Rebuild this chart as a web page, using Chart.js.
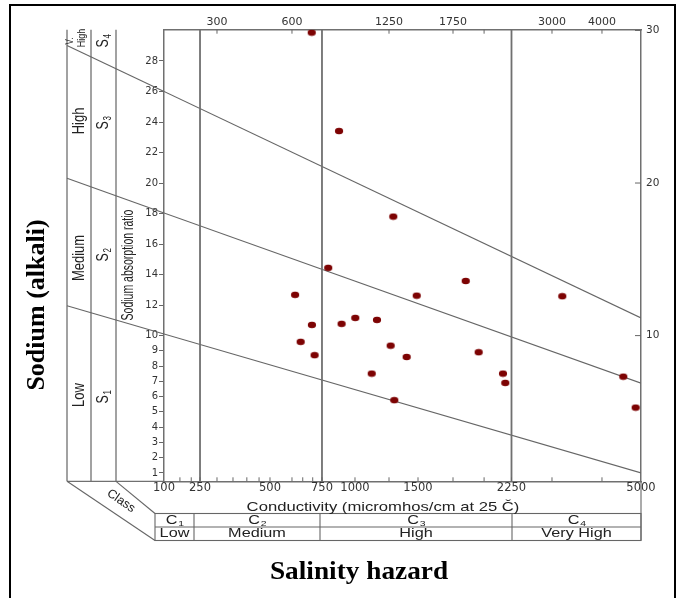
<!DOCTYPE html>
<html>
<head>
<meta charset="utf-8">
<script src="https://cdn.jsdelivr.net/npm/chart.js@4.4.1/dist/chart.umd.min.js"></script>
<style>
  body { margin: 0; background: #fff; }
  canvas { display: block; }
</style>
</head>
<body>
<canvas id="wilcox" width="680" height="598"></canvas>
<script>
// sample points: conductivity (micromhos/cm) and sodium absorption ratio
const ecValues = [695, 870, 1284, 792, 614, 1848, 1488, 696, 890, 1002, 1155, 640,
                  710, 1263, 1397, 1954, 1116, 2169, 2191, 1292, 3183, 4518, 4850];
const sarValues = [29.86, 23.41, 17.80, 14.44, 12.67, 13.58, 12.62, 10.70, 10.77, 11.16, 11.03, 9.59,
                   8.72, 9.34, 8.60, 8.91, 7.51, 7.51, 6.90, 5.77, 12.58, 7.31, 5.28];

// sodium hazard boundaries (SAR at EC 100 and EC 5000)
const hazardEC = [100, 5000];
const s1s2SAR = [10.11, 1.0];
const s2s3SAR = [18.04, 6.88];
const s3s4SAR = [26.0, 11.16];

// salinity class boundaries
const classBoundEC = [250, 750, 2250];

// axis ranges and ticks
const EC_MIN = 100, EC_MAX = 5000;
const SAR_MIN = 0.45, SAR_MAX = 30.05;
const sarTicksLeft = [1, 2, 3, 4, 5, 6, 7, 8, 9, 10, 12, 14, 16, 18, 20, 22, 24, 26, 28];
const sarTicksRight = [10, 20, 30];
const ecTicksBottom = [100, 250, 500, 750, 1000, 1500, 2250, 5000];
const ecMinorBottom = [150, 200, 300, 350, 400, 450, 600, 650, 700, 1250, 1750, 2000, 3000, 4000];
const ecTicksTop = [300, 600, 1250, 1750, 3000, 4000];
const ecMinorTop = [2000];

const classNames = ['C', 'C', 'C', 'C'];
const classSubs = ['1', '2', '3', '4'];
const classHazard = ['Low', 'Medium', 'High', 'Very High'];

// the conductivity axis of this diagram is stretched per class, not a plain log axis
const ecKnots = [[100, 0], [250, 0.0755], [300, 0.1111], [500, 0.2222], [600, 0.2683],
                 [750, 0.3312], [1000, 0.4004], [1250, 0.4717], [1500, 0.5325], [1750, 0.6059],
                 [2250, 0.7285], [3000, 0.8134], [4000, 0.9182], [5000, 1]];

function ecToFrac(v) {
    if (v <= ecKnots[0][0]) return 0;
    for (let i = 0; i < ecKnots.length - 1; i++) {
        const [e0, f0] = ecKnots[i];
        const [e1, f1] = ecKnots[i + 1];
        if (v <= e1) {
            const t = Math.log(v / e0) / Math.log(e1 / e0);
            return f0 + t * (f1 - f0);
        }
    }
    return 1;
}

function fracToEc(f) {
    for (let i = 0; i < ecKnots.length - 1; i++) {
        const [e0, f0] = ecKnots[i];
        const [e1, f1] = ecKnots[i + 1];
        if (f <= f1) {
            const t = (f - f0) / (f1 - f0);
            return e0 * Math.pow(e1 / e0, t);
        }
    }
    return EC_MAX;
}

class WilcoxScale extends Chart.LinearScale {
    getPixelForValue(value) {
        return this.getPixelForDecimal(ecToFrac(value));
    }
    getValueForPixel(pixel) {
        return fracToEc(this.getDecimalForPixel(pixel));
    }
}
WilcoxScale.id = 'wilcox';
WilcoxScale.defaults = Chart.LinearScale.defaults;
Chart.register(WilcoxScale);

// elliptical marker
const dot = document.createElement('canvas');
dot.width = 10;
dot.height = 8;
const dctx = dot.getContext('2d');
dctx.fillStyle = '#7d0303';
dctx.beginPath();
dctx.ellipse(5, 4, 4.1, 3.3, 0, 0, Math.PI * 2);
dctx.fill();

const SANS = '"Liberation Sans", Arial, sans-serif';
const SERIF = '"Liberation Serif", "Times New Roman", serif';
const LINE_GREY = '#707070';

function text(ctx, s, x, y, o) {
    ctx.save();
    ctx.translate(x, y);
    if (o.rot) ctx.rotate(o.rot);
    ctx.scale(o.sx || 1, o.sy || 1);
    ctx.font = o.font;
    ctx.fillStyle = o.color || '#222';
    ctx.textAlign = 'center';
    ctx.textBaseline = 'middle';
    ctx.fillText(s, 0, 0);
    ctx.restore();
}

function subText(ctx, base, sub, x, y, size, o) {
    ctx.save();
    ctx.translate(x, y);
    if (o.rot) ctx.rotate(o.rot);
    ctx.scale(o.sx || 1, o.sy || 1);
    ctx.fillStyle = '#222';
    ctx.textBaseline = 'middle';
    ctx.textAlign = 'left';
    ctx.font = size + 'px ' + SANS;
    const wb = ctx.measureText(base).width;
    ctx.font = Math.round(size * 0.62) + 'px ' + SANS;
    const ws = ctx.measureText(sub).width;
    const x0 = -(wb + ws) / 2;
    ctx.font = size + 'px ' + SANS;
    ctx.fillText(base, x0, 0);
    ctx.font = Math.round(size * 0.62) + 'px ' + SANS;
    ctx.fillText(sub, x0 + wb + 0.5, size * 0.28);
    ctx.restore();
}

function line(ctx, x1, y1, x2, y2) {
    ctx.beginPath();
    ctx.moveTo(x1, y1);
    ctx.lineTo(x2, y2);
    ctx.stroke();
}

const decor = {
    id: 'decor',
    beforeDraw(chart) {
        const ctx = chart.ctx;
        ctx.save();
        ctx.fillStyle = '#fff';
        ctx.fillRect(0, 0, chart.width, chart.height);
        ctx.restore();
    },
    afterDatasetsDraw(chart) {
        const ctx = chart.ctx;
        const a = chart.chartArea;
        const xs = chart.scales.x;
        const panelX = [67, 91, 116];
        ctx.save();

        // left panel verticals and base
        ctx.strokeStyle = LINE_GREY;
        ctx.lineWidth = 1.3;
        panelX.forEach(px => line(ctx, px, a.top, px, a.bottom));
        line(ctx, panelX[0], a.bottom, a.left, a.bottom);

        // hazard lines continue through the label panel
        ctx.strokeStyle = '#666';
        ctx.lineWidth = 1.1;
        [1 + classBoundEC.length, 2 + classBoundEC.length, 3 + classBoundEC.length].forEach(i => {
            const pts = chart.getDatasetMeta(i).data;
            const p0 = pts[0], p1 = pts[1];
            const k = (p1.y - p0.y) / (p1.x - p0.x);
            line(ctx, panelX[0], p0.y + (panelX[0] - p0.x) * k, p0.x, p0.y);
        });

        // inward tick marks
        ctx.strokeStyle = '#666';
        ctx.lineWidth = 1;
        [...ecTicksBottom, ...ecMinorBottom].forEach(v => {
            if (v === EC_MIN || v === EC_MAX) return;
            const px = xs.getPixelForValue(v);
            line(ctx, px, a.bottom, px, a.bottom - 4);
        });
        const xt = chart.scales.x2;
        [...ecTicksTop, ...ecMinorTop].forEach(v => {
            const px = xt.getPixelForValue(v);
            line(ctx, px, a.top, px, a.top + 4);
        });
        const yr = chart.scales.y2;
        sarTicksRight.forEach(v => {
            const py = yr.getPixelForValue(v);
            line(ctx, a.right, py, a.right - 6, py);
        });

        // oblique base and class table
        ctx.strokeStyle = '#666';
        ctx.lineWidth = 1.1;
        line(ctx, panelX[0], a.bottom, 155, 540.5);
        line(ctx, panelX[2], a.bottom, 155, 513.5);
        line(ctx, a.right, a.bottom, a.right, 540.5);
        ctx.strokeRect(155, 513.5, a.right - 155, 27);
        line(ctx, 155, 527, a.right, 527);
        const cols = [155, 194, 320, 512, a.right];
        cols.slice(1, -1).forEach(cx => line(ctx, cx, 513.5, cx, 540.5));
        for (let i = 0; i < 4; i++) {
            const cx = (cols[i] + cols[i + 1]) / 2;
            subText(ctx, classNames[i], classSubs[i], cx, 520.5, 12.5, { sx: 1.3 });
            text(ctx, classHazard[i], cx, 534, { font: '12.5px ' + SANS, sx: 1.3 });
        }
        text(ctx, 'Class', 121, 501, { font: '12.5px ' + SANS, rot: 0.6 });
        text(ctx, 'Conductivity (micromhos/cm at 25 \u010C)', 383, 507, { font: '13px ' + SANS, sx: 1.28 });

        // left panel labels
        const up = -Math.PI / 2;
        text(ctx, 'Low', 79, 395, { font: '13px ' + SANS, rot: up, sy: 1.3 });
        text(ctx, 'Medium', 79, 258, { font: '13px ' + SANS, rot: up, sy: 1.3 });
        text(ctx, 'High', 79, 121, { font: '13px ' + SANS, rot: up, sy: 1.3 });
        text(ctx, 'V.', 70, 41, { font: '8px ' + SANS, rot: up, sy: 1.3 });
        text(ctx, 'High', 82, 38, { font: '9px ' + SANS, rot: up, sy: 1.3 });
        subText(ctx, 'S', '1', 104, 397, 12.5, { rot: up, sy: 1.3 });
        subText(ctx, 'S', '2', 104, 255, 12.5, { rot: up, sy: 1.3 });
        subText(ctx, 'S', '3', 104, 123, 12.5, { rot: up, sy: 1.3 });
        subText(ctx, 'S', '4', 104, 41, 12.5, { rot: up, sy: 1.3 });
        text(ctx, 'Sodium absorption ratio', 129, 265, { font: '10.5px ' + SANS, rot: up, sy: 1.5 });

        // titles
        text(ctx, 'Sodium (alkali)', 37, 305, { font: 'bold 26px ' + SERIF, rot: up, color: '#000' });
        ctx.font = 'bold 26px ' + SERIF;
        ctx.save();
        ctx.translate(359, 579);
        ctx.scale(1.05, 1);
        ctx.fillStyle = '#000';
        ctx.textAlign = 'center';
        ctx.textBaseline = 'alphabetic';
        ctx.fillText('Salinity hazard', 0, 0);
        ctx.restore();

        // outer frame
        ctx.strokeStyle = '#000';
        ctx.lineWidth = 2;
        ctx.beginPath();
        ctx.moveTo(10, 598);
        ctx.lineTo(10, 5);
        ctx.lineTo(675, 5);
        ctx.lineTo(675, 598);
        ctx.stroke();
        ctx.restore();
    }
};

const tickFont = { family: '"DejaVu Sans", sans-serif', size: 11.5 };
const sideFont = { family: '"DejaVu Sans", sans-serif', size: 10 };

const datasets = [{
    label: 'Samples',
    data: ecValues.map((x, i) => ({ x: x, y: sarValues[i] })),
    pointStyle: dot,
    pointRadius: 4,
    showLine: false
}];
classBoundEC.forEach(ec => datasets.push({
    data: [{ x: ec, y: SAR_MIN }, { x: ec, y: SAR_MAX }],
    showLine: true,
    borderColor: LINE_GREY,
    borderWidth: 1.8,
    pointRadius: 0
}));
[s1s2SAR, s2s3SAR, s3s4SAR].forEach(sar => datasets.push({
    data: hazardEC.map((x, i) => ({ x: x, y: sar[i] })),
    showLine: true,
    borderColor: '#666',
    borderWidth: 1.1,
    pointRadius: 0,
    tension: 0
}));

new Chart(document.getElementById('wilcox'), {
    type: 'scatter',
    data: { datasets: datasets },
    options: {
        responsive: false,
        animation: false,
        devicePixelRatio: 1,
        layout: { padding: 0 },
        plugins: { legend: { display: false }, tooltip: { enabled: false } },
        scales: {
            x: {
                type: 'wilcox',
                position: 'bottom',
                min: EC_MIN,
                max: EC_MAX,
                afterBuildTicks: s => {
                    s.ticks = [...ecTicksBottom, ...ecMinorBottom].sort((p, q) => p - q).map(v => ({ value: v }));
                },
                ticks: {
                    autoSkip: false,
                    maxRotation: 0,
                    padding: 0,
                    color: '#333',
                    font: tickFont,
                    callback: v => ecTicksBottom.includes(v) ? String(v) : ''
                },
                grid: { drawOnChartArea: false, drawTicks: false },
                border: { color: LINE_GREY, width: 1.5 },
                afterFit: s => { s.height = 598 - 481.3; }
            },
            x2: {
                type: 'wilcox',
                position: 'top',
                min: EC_MIN,
                max: EC_MAX,
                afterBuildTicks: s => {
                    s.ticks = [...ecTicksTop, ...ecMinorTop].sort((p, q) => p - q).map(v => ({ value: v }));
                },
                ticks: {
                    autoSkip: false,
                    maxRotation: 0,
                    padding: 1,
                    color: '#333',
                    font: { family: '"DejaVu Sans", sans-serif', size: 11 },
                    callback: v => ecTicksTop.includes(v) ? String(v) : ''
                },
                grid: { drawOnChartArea: false, drawTicks: false },
                border: { color: LINE_GREY, width: 1.5 },
                afterFit: s => { s.height = 29.7; }
            },
            y: {
                type: 'linear',
                position: 'left',
                min: SAR_MIN,
                max: SAR_MAX,
                afterBuildTicks: s => { s.ticks = sarTicksLeft.map(v => ({ value: v })); },
                ticks: { autoSkip: false, padding: 1, color: '#333', font: sideFont },
                grid: { drawOnChartArea: false, drawTicks: true, tickLength: 5, color: '#666' },
                border: { color: LINE_GREY, width: 1.5 },
                afterFit: s => { s.width = 164; }
            },
            y2: {
                type: 'linear',
                position: 'right',
                min: SAR_MIN,
                max: SAR_MAX,
                afterBuildTicks: s => { s.ticks = sarTicksRight.map(v => ({ value: v })); },
                ticks: { autoSkip: false, padding: 5, color: '#333', font: { family: '"DejaVu Sans", sans-serif', size: 10.5 } },
                grid: { drawOnChartArea: false, drawTicks: false },
                border: { color: LINE_GREY, width: 1.5 },
                afterFit: s => { s.width = 680 - 641; }
            }
        }
    },
    plugins: [decor]
});
</script>
</body>
</html>
